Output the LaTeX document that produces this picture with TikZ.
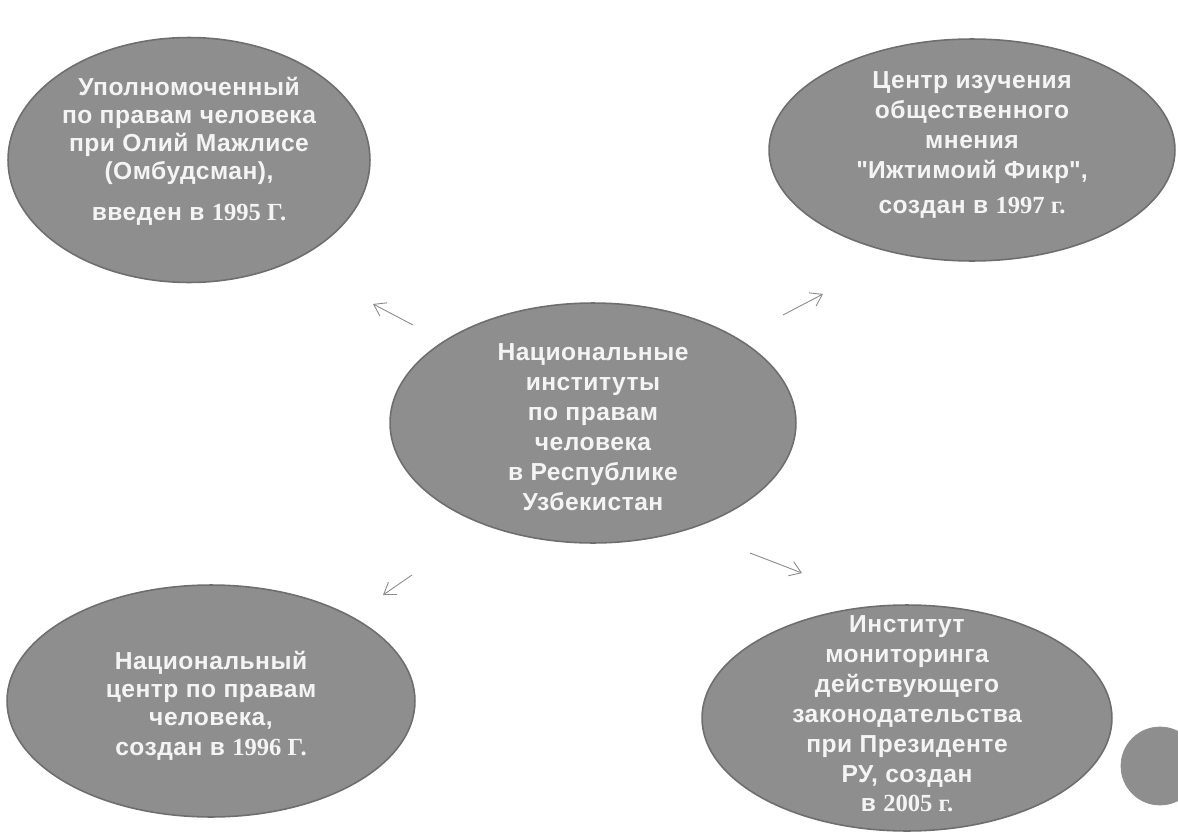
\documentclass[tikz,border=0pt]{standalone}
\usepackage{fontspec}
\setmainfont{Liberation Sans}[LetterSpace=2]
\newfontfamily\numfont{Liberation Serif}
\usetikzlibrary{shapes.geometric,arrows.meta}
\definecolor{ovalfill}{HTML}{8E8E8E}
\definecolor{ovalline}{HTML}{6E6E6E}
\definecolor{ovaltext}{HTML}{F4F4F4}
\definecolor{arrowgray}{HTML}{8A8A8A}
\newcommand{\yr}[1]{{\numfont\bfseries #1}}

\begin{document}
\begin{tikzpicture}[x=0.02cm, y=-0.02cm,
	oval/.style={ellipse, draw=ovalline, line width=0.9pt, fill=ovalfill, inner sep=0},
	caption/.style={inner sep=0, text=ovaltext, font=\fontsize{14}{17}\selectfont\bfseries, align=center},
	tight/.style={font=\fontsize{14}{16}\selectfont\bfseries},
	pointer/.style={draw=arrowgray, line width=0.5pt, -{Straight Barb[length=2.2mm, width=3mm]}}
]
\useasboundingbox (0,0) rectangle (1178,832);

% ellipses
\node[oval, minimum width=8.12cm, minimum height=4.8cm] (inst) at (593,423) {};
\node[oval, minimum width=7.24cm, minimum height=4.9cm] (ombud) at (189,160) {};
\node[oval, minimum width=8.12cm, minimum height=4.44cm] (fikr) at (972,150) {};
\node[oval, minimum width=8.16cm, minimum height=4.64cm] (ncenter) at (211,701) {};
\node[oval, minimum width=8.2cm, minimum height=4.52cm] (monitor) at (907,718) {};
\node[circle, fill=ovalfill, draw=ovalfill, minimum size=1.56cm, inner sep=0] (dot) at (1160,766) {};

% texts
\node[caption] (insttxt) at (593,427) {Национальные\\институты\\по правам\\человека\\в Республике\\Узбекистан};
\node[caption, tight] (ombudtxt) at (189,151) {Уполномоченный\\по правам человека\\при Олий Мажлисе\\(Омбудсман),\\[7pt]введен в \yr{1995 Г.}};
\node[caption] (fikrtxt) at (972,145) {Центр изучения\\общественного\\мнения\\\textquotedbl Ижтимоий Фикр\textquotedbl,\\[3pt]создан в \yr{1997 г.}};
\node[caption, tight] (ncentertxt) at (211,706) {Национальный\\центр по правам\\человека,\\[1pt]создан в \yr{1996 Г.}};
\node[caption] (monitortxt) at (907,714) {Институт\\мониторинга\\действующего\\законодательства\\при Президенте\\РУ, создан\\в \yr{2005 г.}};

% arrows
\coordinate (a1) at (413,325); \coordinate (b1) at (373,304);
\coordinate (a2) at (783,315); \coordinate (b2) at (823,294);
\coordinate (a3) at (412,575); \coordinate (b3) at (383,595);
\coordinate (a4) at (750,553); \coordinate (b4) at (802,573);

\draw[pointer] (a1) -- (b1);
\draw[pointer] (a2) -- (b2);
\draw[pointer] (a3) -- (b3);
\draw[pointer] (a4) -- (b4);
\end{tikzpicture}
\end{document}
